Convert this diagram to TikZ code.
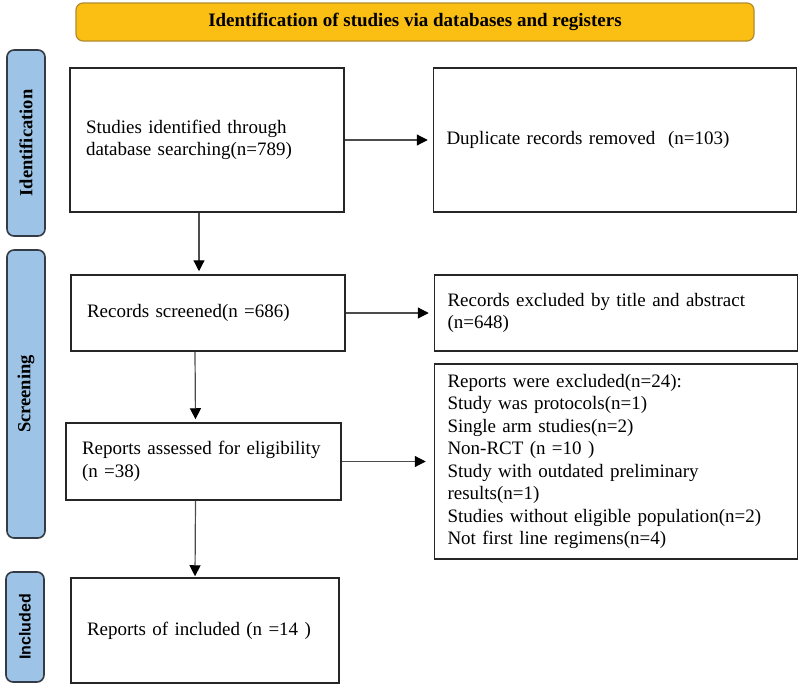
\documentclass[tikz,border=0pt]{standalone}
\usepackage{fontspec}
\setmainfont{Liberation Serif}
\newfontfamily\labelsans{Liberation Sans}
\usepackage{xcolor}
\usetikzlibrary{arrows.meta, positioning}
\definecolor{titleorange}{HTML}{FBBF14}
\definecolor{titleborder}{HTML}{B38B2C}
\definecolor{stageblue}{HTML}{9DC3E6}
\definecolor{stageborder}{HTML}{353B45}

\begin{document}
\begin{tikzpicture}[x=1pt, y=-1pt,
                    node distance=88pt,
                    title_bar/.style={rectangle, draw=titleborder, fill=titleorange, line width=1.2pt, rounded corners=7pt, minimum width=678pt, minimum height=38pt, font=\fontsize{19}{22}\selectfont\bfseries},
                    stage_label/.style={rectangle, draw=stageborder, fill=stageblue, line width=1.6pt, rounded corners=7pt, minimum height=38pt, rotate=90, font=\fontsize{18.5}{22}\selectfont\bfseries},
                    left_box/.style={rectangle, draw=black!85, line width=1.5pt, align=left, inner xsep=16pt, text width=242pt, font=\fontsize{19}{22.5}\selectfont},
                    right_box/.style={rectangle, draw=black!85, line width=1.5pt, align=left, inner xsep=13pt, text width=337pt, font=\fontsize{19}{22.5}\selectfont},
                    flow/.style={draw=black!70, line width=1.2pt, -{Triangle[length=11pt, width=11pt, color=black]}},
                    ]

    \useasboundingbox (0,0) rectangle (800,688);

    % Title
    \node[title_bar] (title) at (415,22) {Identification of studies via databases and registers};

    % Stage labels
    \node[stage_label, minimum width=186pt] (identification) at (26,143) {Identification};
    \node[stage_label, minimum width=288pt] (screening) at (26,394) {Screening};
    \node[stage_label, minimum width=110pt, font=\fontsize{16}{19}\selectfont\labelsans\bfseries] (included_label) at (25,627) {Included};

    % Main flow
    \node[left_box, minimum height=144pt] (identified) at (207,140) {Studies identified through\\database searching(n=789)};
    \node[left_box, minimum height=76pt] (screened) at (208,313) {Records screened(n =686)};
    \node[left_box, text width=243pt, minimum height=77pt] (assessed) at (203.5,461.5) {Reports assessed for eligibility\\(n =38)};
    \node[left_box, text width=236pt, minimum height=105pt] (included) at (205,630.5) {Reports of included (n =14 )};

    % Exclusions
    \node[right_box, minimum height=144pt, right=of identified] (duplicates) {Duplicate records removed\ \ (n=103)};
    \node[right_box, minimum height=76pt, right=of screened] (excluded) {Records excluded by title and abstract\\(n=648)};
    \node[right_box, minimum height=195pt, right=92pt of assessed] (reports_excluded) {Reports were excluded(n=24):\\Study was protocols(n=1)\\Single arm studies(n=2)\\Non-RCT (n =10 )\\Study with outdated preliminary\\results(n=1)\\Studies without eligible population(n=2)\\Not first line regimens(n=4)};

    % Arrows
    \draw[flow, shorten >=5pt] (identified) -- (duplicates);
    \draw[flow, shorten >=5pt] (screened) -- (excluded);
    \draw[flow, shorten >=8pt] (assessed.east) -- (assessed.east -| reports_excluded.west);
    \draw[flow, shorten >=3pt] ([xshift=-8pt]identified.south) -- ([xshift=-9pt]screened.north);
    \draw[flow, shorten >=3pt] ([xshift=-13pt]screened.south) -- ([xshift=-8pt]assessed.north);
    \draw[flow, shorten >=1pt] ([xshift=-8pt]assessed.south) -- ([xshift=-10pt]included.north);

\end{tikzpicture}
\end{document}
